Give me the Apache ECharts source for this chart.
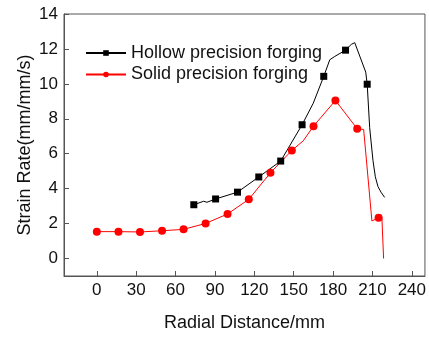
<!DOCTYPE html>
<html>
<head>
<meta charset="utf-8">
<script src="https://cdn.jsdelivr.net/npm/echarts@6/dist/echarts.min.js"></script>
<style>
html,body{margin:0;padding:0;background:#fff;}
#chart{width:429px;height:337px;}
</style>
</head>
<body>
<div id="chart"></div>
<script>
// ---- data ----
const xTicks = [0, 30, 60, 90, 120, 150, 180, 210, 240];
const yTicks = [0, 2, 4, 6, 8, 10, 12, 14];

const hollowName = 'Hollow precision forging';
const hollowX = [73.9, 81.4, 83.9, 90.5, 107.2, 123.4, 140.1, 156.4, 164.9, 172.9, 177.5, 181.3, 189.5, 193.9, 196.5, 204.9, 206.0, 207.9, 210.4, 212.2, 214.2, 216.5, 219.3];
const hollowY = [3.08, 3.28, 3.22, 3.41, 3.80, 4.67, 5.58, 7.66, 8.89, 10.43, 11.38, 11.57, 11.93, 12.26, 12.36, 10.67, 9.98, 7.49, 5.62, 4.68, 4.12, 3.80, 3.50];
const hollowMarked = [0, 3, 4, 5, 6, 7, 9, 12, 16];

const solidName = 'Solid precision forging';
const solidX = [0, 16.5, 32.9, 49.7, 66.1, 82.9, 99.6, 115.8, 132.3, 148.6, 157.3, 165.1, 181.8, 198.4, 203.3, 209.6, 214.7, 217.2, 218.5];
const solidY = [1.54, 1.54, 1.52, 1.59, 1.67, 2.01, 2.55, 3.39, 4.91, 6.19, 6.74, 7.58, 9.05, 7.43, 7.39, 2.15, 2.34, 2.34, 0.0];
const solidMarked = [0, 1, 2, 3, 4, 5, 6, 7, 8, 9, 11, 12, 13, 16];

function build(xs, ys, marked) {
  return xs.map((x, i) => marked.indexOf(i) >= 0
    ? { value: [x, ys[i]] }
    : { value: [x, ys[i]], symbol: 'none' });
}

const FONT = '"Liberation Sans", Arial, sans-serif';
const AX = '#555';
const chart = echarts.init(document.getElementById('chart'), null, { renderer: 'canvas' });
chart.setOption({
  animation: false,
  grid: { left: 64, right: 2, top: 14, bottom: 55, show: true, borderColor: AX, borderWidth: 1, backgroundColor: 'transparent' },
  legend: {
    left: 85, top: 44, orient: 'vertical', padding: 0,
    itemWidth: 40, itemHeight: 7, itemGap: 3.5,
    textStyle: { fontFamily: FONT, fontSize: 18, color: '#111' },
    data: [hollowName, solidName]
  },
  xAxis: {
    type: 'value', min: -25, max: 250,
    name: 'Radial Distance/mm', nameLocation: 'middle', nameGap: 38, nameMoveOverlap: false,
    nameTextStyle: { fontFamily: FONT, fontSize: 18, color: '#111' },
    axisLine: { show: true, onZero: false, lineStyle: { color: AX } },
    axisTick: { show: true, inside: true, length: 5, lineStyle: { color: AX }, customValues: xTicks },
    axisLabel: { fontFamily: FONT, fontSize: 17, color: '#111', margin: 6, customValues: xTicks },
    splitLine: { show: false }
  },
  yAxis: {
    type: 'value', min: -1, max: 14,
    name: 'Strain Rate(mm/mm/s)', nameLocation: 'middle', nameGap: 30, nameMoveOverlap: false,
    nameTextStyle: { fontFamily: FONT, fontSize: 18, color: '#111' },
    axisLine: { show: true, onZero: false, lineStyle: { color: AX } },
    axisTick: { show: true, inside: true, length: 5, lineStyle: { color: AX }, customValues: yTicks },
    axisLabel: { fontFamily: FONT, fontSize: 17, color: '#111', margin: 6, customValues: yTicks },
    splitLine: { show: false }
  },
  series: [
    {
      name: hollowName, type: 'line', symbol: 'rect', symbolSize: 7,
      showSymbol: true, showAllSymbol: true,
      color: '#000', lineStyle: { color: '#000', width: 1 }, itemStyle: { color: '#000' },
      data: build(hollowX, hollowY, hollowMarked)
    },
    {
      name: solidName, type: 'line', symbol: 'circle', symbolSize: 8,
      showSymbol: true, showAllSymbol: true,
      color: '#ff0000', lineStyle: { color: '#ff0000', width: 1 }, itemStyle: { color: '#ff0000' },
      data: build(solidX, solidY, solidMarked)
    }
  ]
});
</script>
</body>
</html>
